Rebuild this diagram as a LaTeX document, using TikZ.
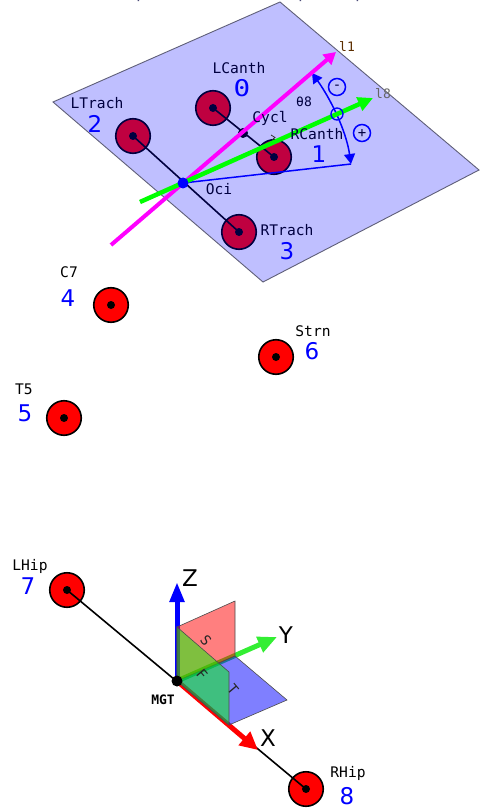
\documentclass[tikz,border=0pt]{standalone}
\usepackage{fontspec}
\setmainfont{DejaVu Sans}
\newfontfamily\monof{DejaVu Sans Mono}
\usetikzlibrary{arrows.meta}
\definecolor{planeblue}{RGB}{191,191,255}
\definecolor{planeedge}{RGB}{95,95,120}
\definecolor{navy}{RGB}{0,0,64}
\definecolor{crimson}{RGB}{191,0,64}
\definecolor{limey}{RGB}{51,238,51}
\definecolor{purepink}{RGB}{255,0,255}
\definecolor{puregreen}{RGB}{0,255,0}
\tikzset{
  x=1pt,y=-1pt,
  disk/.style={circle,draw=black,fill=red,line width=1.6pt,minimum size=34.5pt,inner sep=0pt},
  diskp/.style={disk,draw=navy,fill=crimson},
  dot/.style={circle,fill=black,minimum size=8pt,inner sep=0pt},
  dotp/.style={dot,fill=navy},
  name label/.style={font=\monof\fontsize{14.6}{14.6}\selectfont,text=black,inner sep=0pt},
  name labelp/.style={name label,text=navy},
  number/.style={font=\fontsize{23}{23}\selectfont,text=blue,inner sep=0pt},
  small label/.style={font=\monof\fontsize{13}{13}\selectfont,inner sep=0pt},
  axis label/.style={font=\fontsize{23}{23}\selectfont,text=black,inner sep=0pt},
  sign/.style={circle,draw=blue,line width=1.5pt,minimum size=17pt,inner sep=0pt,font=\monof\fontsize{14}{14}\selectfont,text=navy},
  bone/.style={line width=1.6pt},
  plane label/.style={font=\monof\fontsize{14}{14}\selectfont,inner sep=0pt,text=black!85},
  aplane/.style={draw=black!70,line width=0.6pt,fill opacity=0.5},
}
\begin{document}
\begin{tikzpicture}
\useasboundingbox (0,0) rectangle (479,810);
% clipped remains of a caption at the top edge
\fill[navy!70] (137.5,0) rectangle (139,1.2) (299.5,0) rectangle (301,1.2) (356.5,0) rectangle (358,1.2);
% head plane
\coordinate (PA) at (280,2);
\coordinate (PB) at (479,170);
\coordinate (PC) at (263,282);
\coordinate (PD) at (53,102);
\draw[fill=planeblue,draw=planeedge,line width=0.9pt] (PA) -- (PB) -- (PC) -- (PD) -- cycle;
% head markers
\node[diskp] (LCanth) at (213,108) {};
\node[diskp] (LTrach) at (133,136) {};
\node[diskp] (RTrach) at (239,232) {};
\node[diskp] (RCanth) at (274,157) {};
\draw[bone,navy] (LTrach.center) -- (RTrach.center);
\draw[bone,navy] (LCanth.center) -- (RCanth.center);
\node[dotp] at (LCanth) {};
\node[dotp] at (LTrach) {};
\node[dotp] at (RTrach) {};
\node[dotp] at (RCanth) {};
\node[circle,fill=navy,minimum size=10pt,inner sep=0pt] (Cycl) at (243,133) {};
% small mark beside RCanth
\coordinate (M1) at (271,135);
\coordinate (M2) at (275,137.5);
\coordinate (M3) at (272,140);
\draw[line width=0.8pt,black!80] (M1) -- (M2) -- (M3);
% angle construction
\coordinate (Oc) at (183,183);
\coordinate (AE) at (351,164);
\coordinate (AT) at (312,73);
\coordinate (MT) at (336,52);
\coordinate (MS) at (111,245);
\coordinate (GT) at (373,98);
\coordinate (GS) at (140,202);
\draw[blue,line width=1.5pt] (Oc) -- (AE);
\draw[blue,line width=1.5pt,{Triangle[length=10pt,width=11pt]}-{Triangle[length=10pt,width=11pt]}] (AT) .. controls (330,98) and (346,130) .. (AE);
\draw[line width=4pt,purepink,-{Triangle[length=12pt,width=13pt]}] (MS) -- (MT);
\draw[line width=4.5pt,puregreen,-{Triangle[length=15pt,width=14pt]}] (GS) -- (GT);
\node[circle,draw=blue,line width=1.3pt,minimum size=12pt,inner sep=0pt] (Cross) at (337,114) {};
\node[circle,fill=blue,minimum size=11pt,inner sep=0pt] (Oci) at (Oc) {};
\node[sign] (minus) at (337,87) {-};
\node[sign] (plus) at (362,133) {+};
% head labels
\node[name labelp] (tLCanth) at (239,68) {LCanth};
\node[font=\monof\fontsize{23}{23}\selectfont,text=blue,inner sep=0pt,xscale=1.2] (n0) at (242,88) {0};
\node[name labelp] (tLTrach) at (97,103) {LTrach};
\node[number] (n2) at (95,124) {2};
\node[name labelp] (tCycl) at (270,118) {Cycl};
\node[name labelp] (tRCanth) at (317,134) {RCanth};
\node[number] (n1) at (319,154) {1};
\node[name labelp] (tRTrach) at (287,230) {RTrach};
\node[number] (n3) at (287,251) {3};
\node[name labelp] (tOci) at (219,189) {Oci};
\node[font=\monof\fontsize{13}{13}\selectfont,text=navy,inner sep=0pt] (ttheta) at (304,102) {θ8};
\node[small label,text=black!60!orange!90!black] (tl1) at (347,47) {l1};
\node[small label,text=black!60] (tl8) at (383,94) {l8};
% trunk markers
\node[disk] (C7) at (111,305) {};
\node[dot] at (C7) {};
\node[name label] (tC7) at (69,272) {C7};
\node[number] (n4) at (68,298) {4};
\node[disk] (Strn) at (276,357) {};
\node[dot] at (Strn) {};
\node[name label] (tStrn) at (313,331) {Strn};
\node[number] (n6) at (312,351) {6};
\node[disk] (T5) at (64,418) {};
\node[dot] at (T5) {};
\node[name label] (tT5) at (24,389) {T5};
\node[number] (n5) at (25,413) {5};
% pelvis
\node[disk] (LHip) at (67,590) {};
\node[disk] (RHip) at (306,789) {};
\draw[bone] (LHip.center) -- (RHip.center);
\node[dot] at (LHip) {};
\node[dot] at (RHip) {};
\node[name label] (tLHip) at (30,566) {LHip};
\node[number] (n7) at (28,586) {7};
\node[name label] (tRHip) at (348,773) {RHip};
\node[number] (n8) at (347,796) {8};
% axes
\coordinate (O) at (177,681);
\coordinate (ZT) at (177,582);
\coordinate (XT) at (258,750);
\coordinate (YT) at (277,637);
\draw[line width=5pt,blue,-{Triangle[length=20pt,width=14pt]}] (O) -- (ZT);
\draw[line width=5pt,red,-{Triangle[length=18pt,width=17pt]}] (O) -- (XT);
\draw[line width=5pt,limey,-{Triangle[length=19pt,width=16pt]}] (O) -- (YT);
% anatomical planes
\coordinate (Pz) at (177,627);
\coordinate (Pyz) at (235,601);
\coordinate (Py) at (235,656);
\coordinate (Px) at (229,725);
\coordinate (Pxz) at (229,672);
\coordinate (Pxy) at (287,700);
\draw[aplane,fill=blue] (O) -- (Px) -- (Pxy) -- (Py) -- cycle;
\draw[aplane,fill=red] (O) -- (Pz) -- (Pyz) -- (Py) -- cycle;
\draw[aplane,fill=green] (O) -- (Px) -- (Pxz) -- (Pz) -- cycle;
\node[dot,minimum size=11pt] (MGT) at (O) {};
\node[font=\monof\bfseries\fontsize{13}{13}\selectfont,inner sep=0pt] (tMGT) at (163,700) {MGT};
\node[plane label,rotate=-50] (tS) at (206,640) {S};
\node[plane label,rotate=-50] (tF) at (202,674) {F};
\node[plane label,rotate=-50] (tT) at (233,689) {T};
\node[axis label] (tZ) at (190,578) {Z};
\node[axis label] (tY) at (286,635) {Y};
\node[axis label] (tX) at (268,738) {X};
\end{tikzpicture}
\end{document}
